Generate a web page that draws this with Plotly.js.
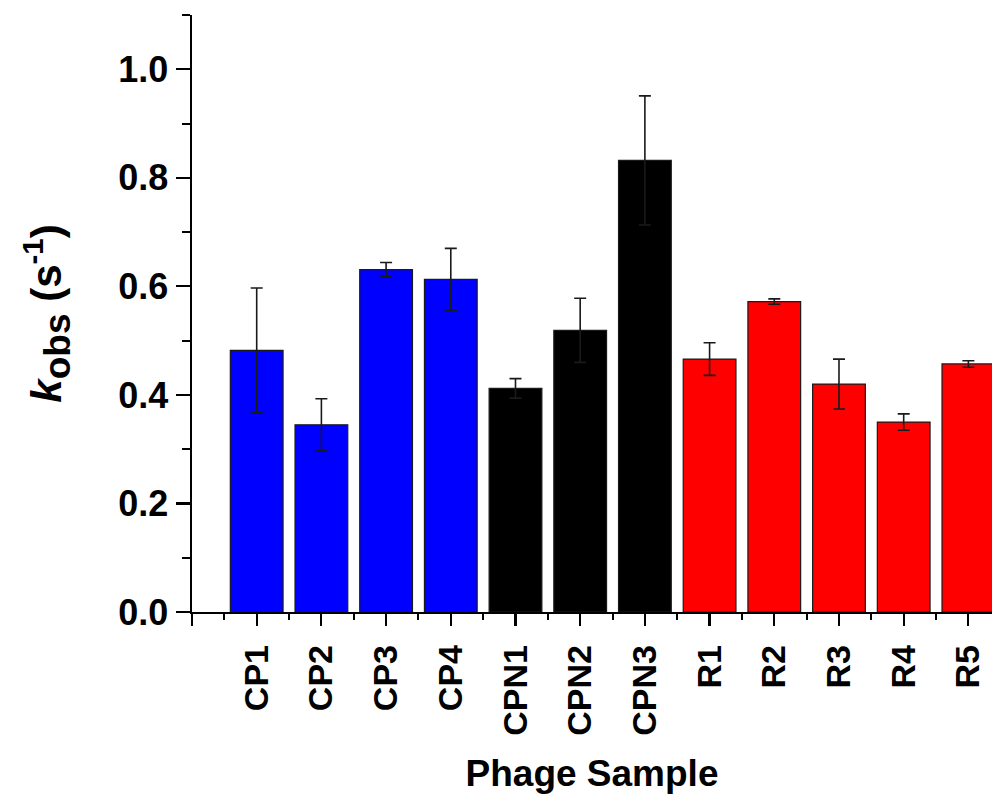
<!DOCTYPE html>
<html>
<head>
<meta charset="utf-8">
<script src="https://cdn.plot.ly/plotly-3.0.1.min.js"></script>
<style>html,body{margin:0;padding:0;background:#fff;}#chart{width:992px;height:794px;}</style>
</head>
<body>
<div id="chart"></div>
<script>
// Data
const samples = ["CP1","CP2","CP3","CP4","CPN1","CPN2","CPN3","R1","R2","R3","R4","R5"];
const kobs    = [0.482, 0.345, 0.631, 0.613, 0.412, 0.519, 0.832, 0.466, 0.572, 0.420, 0.350, 0.457];
const kobsErr = [0.115, 0.048, 0.013, 0.057, 0.018, 0.059, 0.119, 0.030, 0.005, 0.046, 0.015, 0.006];
const groups  = ["CP","CP","CP","CP","CPN","CPN","CPN","R","R","R","R","R"];
const groupColors = {CP: "#0000ff", CPN: "#000000", R: "#ff0000"};

const xIdx = samples.map((s, i) => i);
const font = "Arial, 'Liberation Sans', sans-serif";

const trace = {
  type: "bar",
  x: xIdx,
  y: kobs,
  width: 0.815,
  marker: {
    color: groups.map(g => groupColors[g]),
    line: {color: "#1a1a1a", width: 1.2}
  },
  error_y: {type: "data", array: kobsErr, visible: true, color: "#1a1a1a", thickness: 1.6, width: 6},
  hoverinfo: "skip"
};

const layout = {
  width: 992, height: 794,
  margin: {l: 192, r: 0, t: 15, b: 182, autoexpand: false},
  paper_bgcolor: "#ffffff",
  plot_bgcolor: "#ffffff",
  showlegend: false,
  font: {family: font, color: "#000"},
  xaxis: {
    type: "linear",
    range: [-1, 11.365],
    tickmode: "array",
    tickvals: [-1].concat(xIdx),
    ticktext: [""].concat(samples.map(s => "<b>" + s + "</b>")),
    tickangle: -90,
    ticks: "outside", ticklen: 12, tickwidth: 2.2, tickcolor: "#000",
    minor: {tickmode: "array", tickvals: [-0.5].concat(xIdx.map(i => i + 0.5)), ticks: "outside", ticklen: 6, tickwidth: 2, tickcolor: "#000"},
    tickfont: {family: font, size: 34, color: "#000", weight: "bold"},
    ticklabelstandoff: 5,
    showline: true, linecolor: "#000", linewidth: 2.4,
    showgrid: false, zeroline: false,
    automargin: false,
    title: {text: "<b>Phage Sample</b>", font: {family: font, size: 37, color: "#000"}, standoff: 26}
  },
  yaxis: {
    range: [0, 1.1],
    tickmode: "linear", tick0: 0, dtick: 0.2,
    tickformat: ".1f",
    ticks: "outside", ticklen: 14, tickwidth: 2.2, tickcolor: "#000",
    minor: {dtick: 0.1, ticks: "outside", ticklen: 8, tickwidth: 2, tickcolor: "#000"},
    tickfont: {family: font, size: 36, color: "#000", weight: "bold"},
    ticklabelstandoff: 0,
    showline: true, linecolor: "#000", linewidth: 2.4,
    showgrid: false, zeroline: false,
    automargin: false,
    title: {
      text: "<b><i>k</i><sub><span style=\"font-size:37px\">obs</span></sub> (s<sup>-1</sup>)</b>",
      font: {family: font, size: 42, color: "#000"},
      standoff: 44
    }
  }
};

Plotly.newPlot("chart", [trace], layout, {displayModeBar: false, staticPlot: true});
</script>
</body>
</html>
